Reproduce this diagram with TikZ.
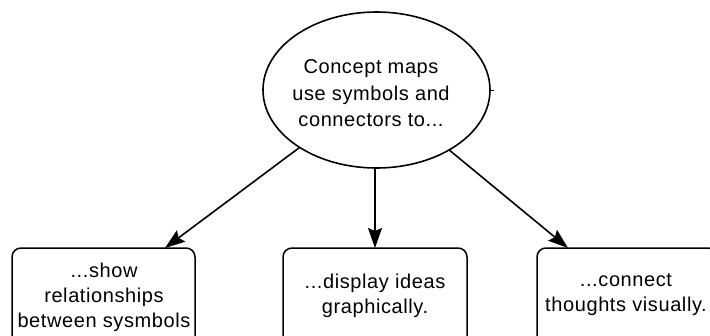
\documentclass[tikz,border=0pt]{standalone}
\usepackage{fontspec}
\setmainfont[LetterSpace=3]{Liberation Sans}
\usetikzlibrary{arrows.meta,shapes.geometric}
\begin{document}
\begin{tikzpicture}[x=1pt,y=-1pt,
  every node/.style={inner sep=0pt,outer sep=0pt},
  concept/.style={draw=black,line width=1.6pt,ellipse,minimum width=227pt,minimum height=156pt},
  leaf/.style={draw=black,line width=1.5pt,rounded corners=9pt,minimum height=98pt},
  txt/.style={align=center,font=\fontsize{20}{25}\selectfont},
  link/.style={line width=1.6pt,-{Stealth[length=20pt,width=14pt,inset=3pt]}}]
\useasboundingbox (0,0) rectangle (710,335);
\clip (0,0) rectangle (710,335);
\fill[white] (0,0) rectangle (710,335);
\node[concept] (e) at (376.5,90) {};
\node[txt,font=\fontsize{20}{26.5}\selectfont] (et) at (371,93.5) {Concept maps\\use symbols and\\connectors to...};
\draw[line width=1pt] (490,90) -- (494,90);
\node[leaf,minimum width=183pt] (lb) at (103.5,297) {};
\node[txt] (lt) at (104,297) {...show\\relationships\\between sysmbols};
\node[leaf,minimum width=184pt] (mb) at (375,297) {};
\node[txt] (mt) at (375,295.5) {...display ideas\\graphically.};
\node[leaf,minimum width=180pt] (rb) at (627,297) {};
\node[txt] (rt) at (626,295) {...connect\\thoughts visually.};
\coordinate (tl) at (165,248);
\coordinate (tm) at (375,248);
\coordinate (tr) at (568,248);
\draw[link] (e) -- (tl |- lb.north);
\draw[link] (e.south -| tm) -- (tm |- mb.north);
\draw[link] (e) -- (tr |- rb.north);
\end{tikzpicture}
\end{document}
